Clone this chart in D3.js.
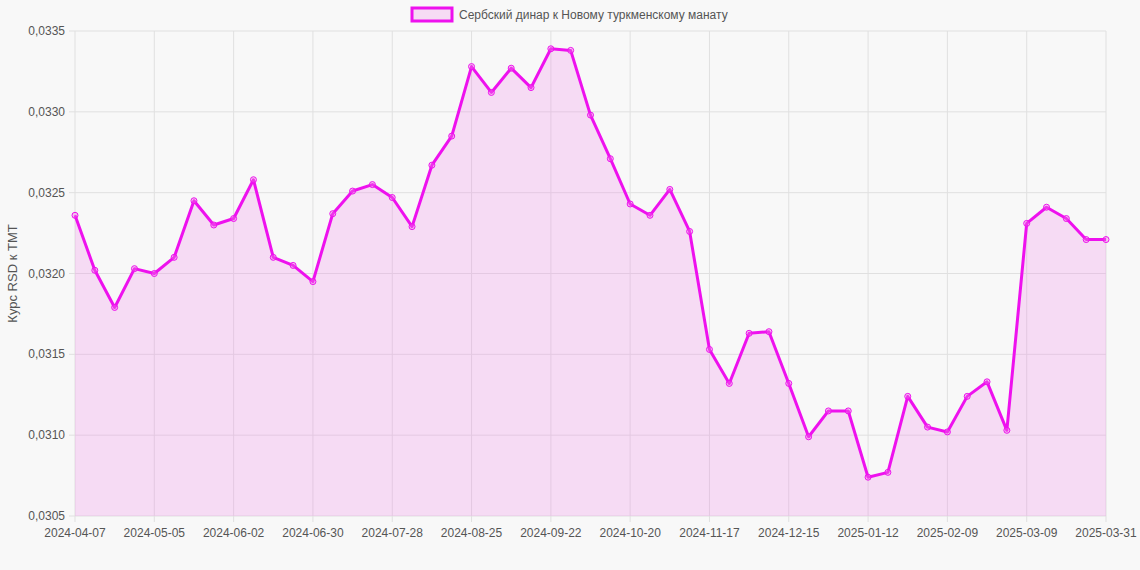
<!DOCTYPE html>
<html><head><meta charset="utf-8">
<script src="https://cdn.jsdelivr.net/npm/d3@7"></script>
<style>body{margin:0;background:#f8f8f8;font-family:"Liberation Sans",Arial,sans-serif}</style>
</head><body><svg id="c" width="1140" height="570"></svg>
<script>
const dates=["2024-04-07","2024-04-14","2024-04-21","2024-04-28","2024-05-05","2024-05-12","2024-05-19","2024-05-26","2024-06-02","2024-06-09","2024-06-16","2024-06-23","2024-06-30","2024-07-07","2024-07-14","2024-07-21","2024-07-28","2024-08-04","2024-08-11","2024-08-18","2024-08-25","2024-09-01","2024-09-08","2024-09-15","2024-09-22","2024-09-29","2024-10-06","2024-10-13","2024-10-20","2024-10-27","2024-11-03","2024-11-10","2024-11-17","2024-11-24","2024-12-01","2024-12-08","2024-12-15","2024-12-22","2024-12-29","2025-01-05","2025-01-12","2025-01-19","2025-01-26","2025-02-02","2025-02-09","2025-02-16","2025-02-23","2025-03-02","2025-03-09","2025-03-16","2025-03-23","2025-03-30","2025-03-31"];
const values=[0.03236,0.03202,0.03179,0.03203,0.03200,0.03210,0.03245,0.03230,0.03234,0.03258,0.03210,0.03205,0.03195,0.03237,0.03251,0.03255,0.03247,0.03229,0.03267,0.03285,0.03328,0.03312,0.03327,0.03315,0.03339,0.03338,0.03298,0.03271,0.03243,0.03236,0.03252,0.03226,0.03153,0.03132,0.03163,0.03164,0.03132,0.03099,0.03115,0.03115,0.03074,0.03077,0.03124,0.03105,0.03102,0.03124,0.03133,0.03103,0.03231,0.03241,0.03234,0.03221,0.03221];
const yTicks=[0.0305,0.0310,0.0315,0.0320,0.0325,0.0330,0.0335];
const seriesName="Сербский динар к Новому туркменскому манату";
const yTitle="Курс RSD к TMT";

const svg=d3.select("#c");
const L=75,R=1106,T=31,B=516;
const x=d3.scalePoint().domain(d3.range(dates.length)).range([L,R]);
const y=d3.scaleLinear().domain([0.0305,0.0335]).range([B,T]);
const fmt=v=>v.toFixed(4).replace(".",",");
const xt=Array.from(new Set(d3.range(0,dates.length,4).concat([dates.length-1])));
const g=svg.append("g");
g.selectAll(".gx").data(xt).join("line").attr("x1",d=>x(d)).attr("x2",d=>x(d)).attr("y1",T).attr("y2",B+6).attr("stroke","#e0e0e0");
g.selectAll(".gy").data(yTicks).join("line").attr("x1",L-6).attr("x2",R).attr("y1",d=>y(d)).attr("y2",d=>y(d)).attr("stroke","#e0e0e0");
g.selectAll(".tx").data(xt).join("text").attr("x",d=>x(d)).attr("y",B+21).attr("text-anchor","middle").attr("font-size",12).attr("fill","#555").text(d=>dates[d]);
g.selectAll(".ty").data(yTicks).join("text").attr("x",L-10).attr("y",d=>y(d)+4).attr("text-anchor","end").attr("font-size",12).attr("fill","#555").text(fmt);
svg.append("text").attr("transform",`translate(17,${(T+B)/2}) rotate(-90)`).attr("text-anchor","middle").attr("font-size",13).attr("fill","#555").text(yTitle);
const area=d3.area().x((d,i)=>x(i)).y0(B).y1(d=>y(d));
const line=d3.line().x((d,i)=>x(i)).y(d=>y(d));
svg.append("path").datum(values).attr("d",area).attr("fill","rgba(240,120,230,0.22)");
svg.append("path").datum(values).attr("d",line).attr("fill","none").attr("stroke","#ee11ee").attr("stroke-width",3).attr("stroke-linejoin","round");
svg.selectAll(".pt").data(values).join("circle").attr("cx",(d,i)=>x(i)).attr("cy",d=>y(d)).attr("r",3).attr("fill","rgba(240,120,230,0.35)").attr("stroke","#ee11ee").attr("stroke-width",1);
const lg=svg.append("g");
lg.append("rect").attr("x",412).attr("y",8).attr("width",40).attr("height",13).attr("fill","rgba(240,120,230,0.22)").attr("stroke","#ee11ee").attr("stroke-width",3);
lg.append("text").attr("x",459).attr("y",19).attr("font-size",12).attr("fill","#555").text(seriesName);
</script></body></html>
